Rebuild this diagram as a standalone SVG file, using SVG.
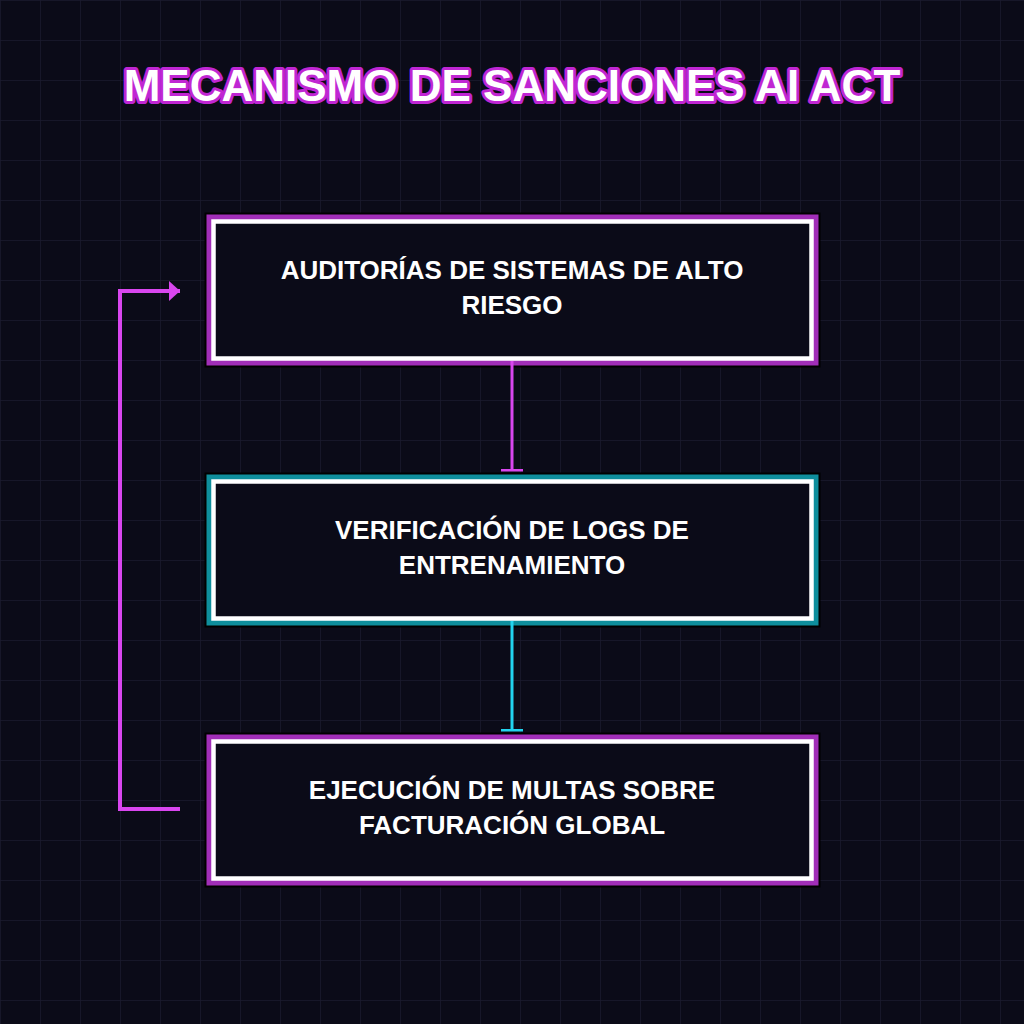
<svg xmlns="http://www.w3.org/2000/svg" width="1024" height="1024" viewBox="0 0 1024 1024">
<defs>
<pattern id="grid" width="40" height="40" patternUnits="userSpaceOnUse"><path d="M40 0H0V40" fill="none" stroke="#1a1a2e" stroke-width="1.5"/></pattern>
<marker id="arr" markerWidth="12" markerHeight="20" refX="11" refY="10" orient="auto" markerUnits="userSpaceOnUse"><path d="M0 0L11 10L0 20Z" fill="#d946ef"/></marker>
<marker id="teeP" markerWidth="22" markerHeight="4" refX="11" refY="2" orient="0" markerUnits="userSpaceOnUse"><rect x="0" y="0" width="22" height="2.5" fill="#d946ef"/></marker>
<marker id="teeC" markerWidth="22" markerHeight="4" refX="11" refY="2" orient="0" markerUnits="userSpaceOnUse"><rect x="0" y="0" width="22" height="2.5" fill="#22d3ee"/></marker>
</defs>
<style>
.t{font-family:"Liberation Sans",Arial,sans-serif;font-weight:bold;fill:#fff;text-anchor:middle}
.lbl{font-size:26px}
.box{fill:#0b0b18;stroke:#fff;stroke-width:4.5}
.blk{fill:none;stroke:#000;stroke-width:13}
.gp{fill:none;stroke:#a12eb8;stroke-width:9}
.gc{fill:none;stroke:#0e8e9c;stroke-width:9}
</style>
<rect width="1024" height="1024" fill="#0b0b18"/>
<rect width="1024" height="1024" fill="url(#grid)"/>
<text class="t" x="512" y="101" font-size="44" stroke="#c026d3" stroke-width="6" stroke-linejoin="round" paint-order="stroke">MECANISMO DE SANCIONES AI ACT</text>
<g id="n1">
<rect class="blk" x="211" y="219" width="603" height="142"/>
<rect class="gp" x="211" y="219" width="603" height="142"/>
<rect class="box" x="213.5" y="221.5" width="598" height="137"/>
<text class="t lbl" x="512" y="279">AUDITORÍAS DE SISTEMAS DE ALTO</text>
<text class="t lbl" x="512" y="314">RIESGO</text>
</g>
<g id="n2">
<rect class="blk" x="211" y="479" width="603" height="142"/>
<rect class="gc" x="211" y="479" width="603" height="142"/>
<rect class="box" x="213.5" y="481.5" width="598" height="137"/>
<text class="t lbl" x="512" y="539">VERIFICACIÓN DE LOGS DE</text>
<text class="t lbl" x="512" y="574">ENTRENAMIENTO</text>
</g>
<g id="n3">
<rect class="blk" x="211" y="739" width="603" height="142"/>
<rect class="gp" x="211" y="739" width="603" height="142"/>
<rect class="box" x="213.5" y="741.5" width="598" height="137"/>
<text class="t lbl" x="512" y="799">EJECUCIÓN DE MULTAS SOBRE</text>
<text class="t lbl" x="512" y="834">FACTURACIÓN GLOBAL</text>
</g>
<g id="connectors" fill="none" stroke-width="3">
<path d="M512 361V471" stroke="#d946ef" marker-end="url(#teeP)"/>
<path d="M512 621V731" stroke="#22d3ee" marker-end="url(#teeC)"/>
<path d="M180 809H120V291H180" stroke="#d946ef" stroke-width="4" marker-end="url(#arr)"/>
</g>
</svg>
